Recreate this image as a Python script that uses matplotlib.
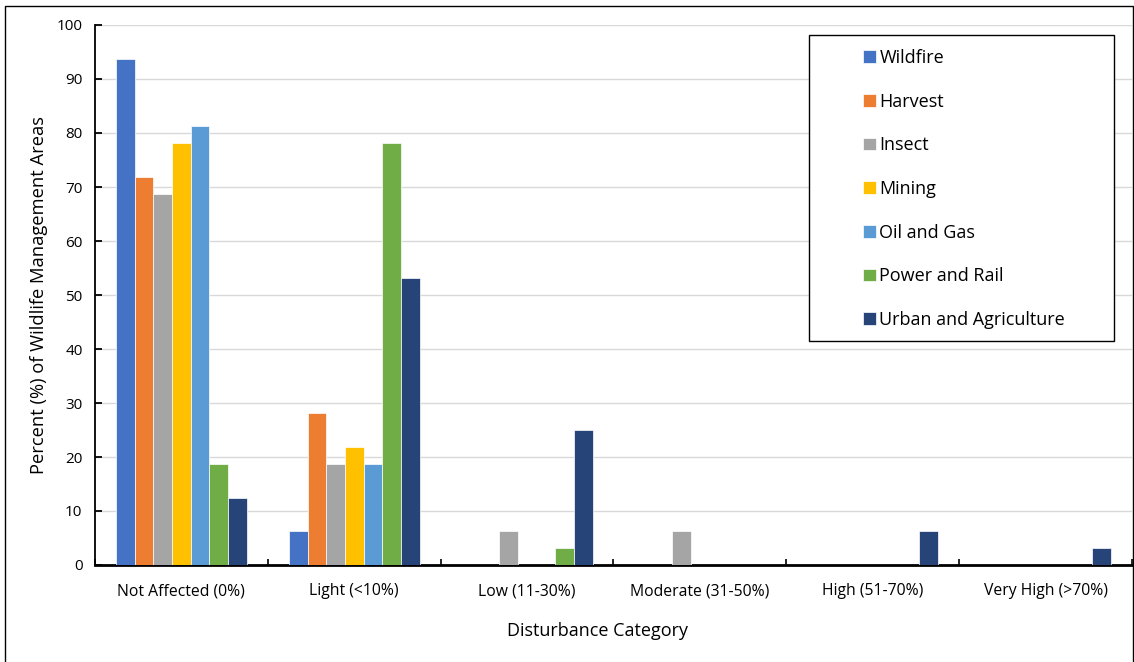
import matplotlib
matplotlib.use("Agg")
import matplotlib.pyplot as plt
import numpy as np
from matplotlib.patches import Rectangle

plt.rcParams['font.family'] = ['Open Sans', 'DejaVu Sans']

categories = ["Not Affected (0%)", "Light (<10%)", "Low (11-30%)",
              "Moderate (31-50%)", "High (51-70%)", "Very High (>70%)"]
series_names = ["Wildfire", "Harvest", "Insect", "Mining", "Oil and Gas",
                "Power and Rail", "Urban and Agriculture"]
wildfire = [93.75, 6.25, 0, 0, 0, 0]
harvest = [71.875, 28.125, 0, 0, 0, 0]
insect = [68.75, 18.75, 6.25, 6.25, 0, 0]
mining = [78.125, 21.875, 0, 0, 0, 0]
oil_gas = [81.25, 18.75, 0, 0, 0, 0]
power_rail = [18.75, 78.125, 3.125, 0, 0, 0]
urban_ag = [12.5, 53.125, 25.0, 0, 6.25, 3.125]
colors = ["#4472C4", "#ED7D31", "#A5A5A5", "#FFC000", "#5B9BD5",
          "#70AD47", "#264478"]
yticks = [0, 10, 20, 30, 40, 50, 60, 70, 80, 90, 100]

series = [wildfire, harvest, insect, mining, oil_gas, power_rail, urban_ag]

W, H = 1134, 662
fig = plt.figure(figsize=(W / 100, H / 100), dpi=100)
ax = fig.add_axes([95 / W, 1 - 565 / H, (1132 - 95) / W, (565 - 25) / H])

n = len(series)
group = 0.757
w = group / n
x = np.arange(len(categories))
for i, (name, vals, c) in enumerate(zip(series_names, series, colors)):
    offs = -group / 2 + w * (i + 0.5)
    ax.bar(x + offs, vals, width=w, color=c, label=name,
           edgecolor='white', linewidth=0.5, zorder=3)

ax.set_xlim(-0.5, len(categories) - 0.5)
ax.set_ylim(0, 100)
ax.set_yticks(yticks)
ax.set_xticks(x)
ax.set_xticklabels(categories, fontsize=11.3)
ax.set_xticks(np.arange(len(categories) + 1) - 0.5, minor=True)
ax.tick_params(axis='x', which='major', length=0, pad=13)
ax.tick_params(axis='x', which='minor', direction='in', length=4, width=1.2)
ax.tick_params(axis='y', labelsize=11, direction='in', length=5, width=1.3, pad=9)
ax.yaxis.grid(True, color='#D9D9D9', linewidth=1, zorder=0)
ax.set_axisbelow(True)

for s in ['top', 'right']:
    ax.spines[s].set_visible(False)
ax.spines['left'].set_linewidth(1.3)
ax.spines['bottom'].set_linewidth(2)

ax.set_ylabel("Percent (%) of Wildlife Management Areas", fontsize=13.2, labelpad=6)
ax.set_xlabel("Disturbance Category", fontsize=13)
ax.xaxis.set_label_coords(0.485, -0.105)

# legend frame
ax.add_patch(Rectangle((809 / W, 1 - 341 / H), (1114 - 809) / W, (341 - 35) / H,
                       transform=fig.transFigure, facecolor='white',
                       edgecolor='black', linewidth=1.0, zorder=4, clip_on=False))

leg = ax.legend(loc='upper left', bbox_to_anchor=(863 / W, 1 - 49 / H),
                bbox_transform=fig.transFigure,
                fontsize=13, frameon=False,
                handlelength=0.7, handleheight=0.7, handletextpad=0.2,
                labelspacing=1.42, borderpad=0, borderaxespad=0)
leg.set_zorder(6)

# outer figure border
fig.patches.append(Rectangle((5 / W, -0.01), 1128 / W, 1 - 6 / H + 0.01,
                             transform=fig.transFigure, fill=False,
                             edgecolor='black', linewidth=1.0))

fig.savefig("out.png", dpi=100)
